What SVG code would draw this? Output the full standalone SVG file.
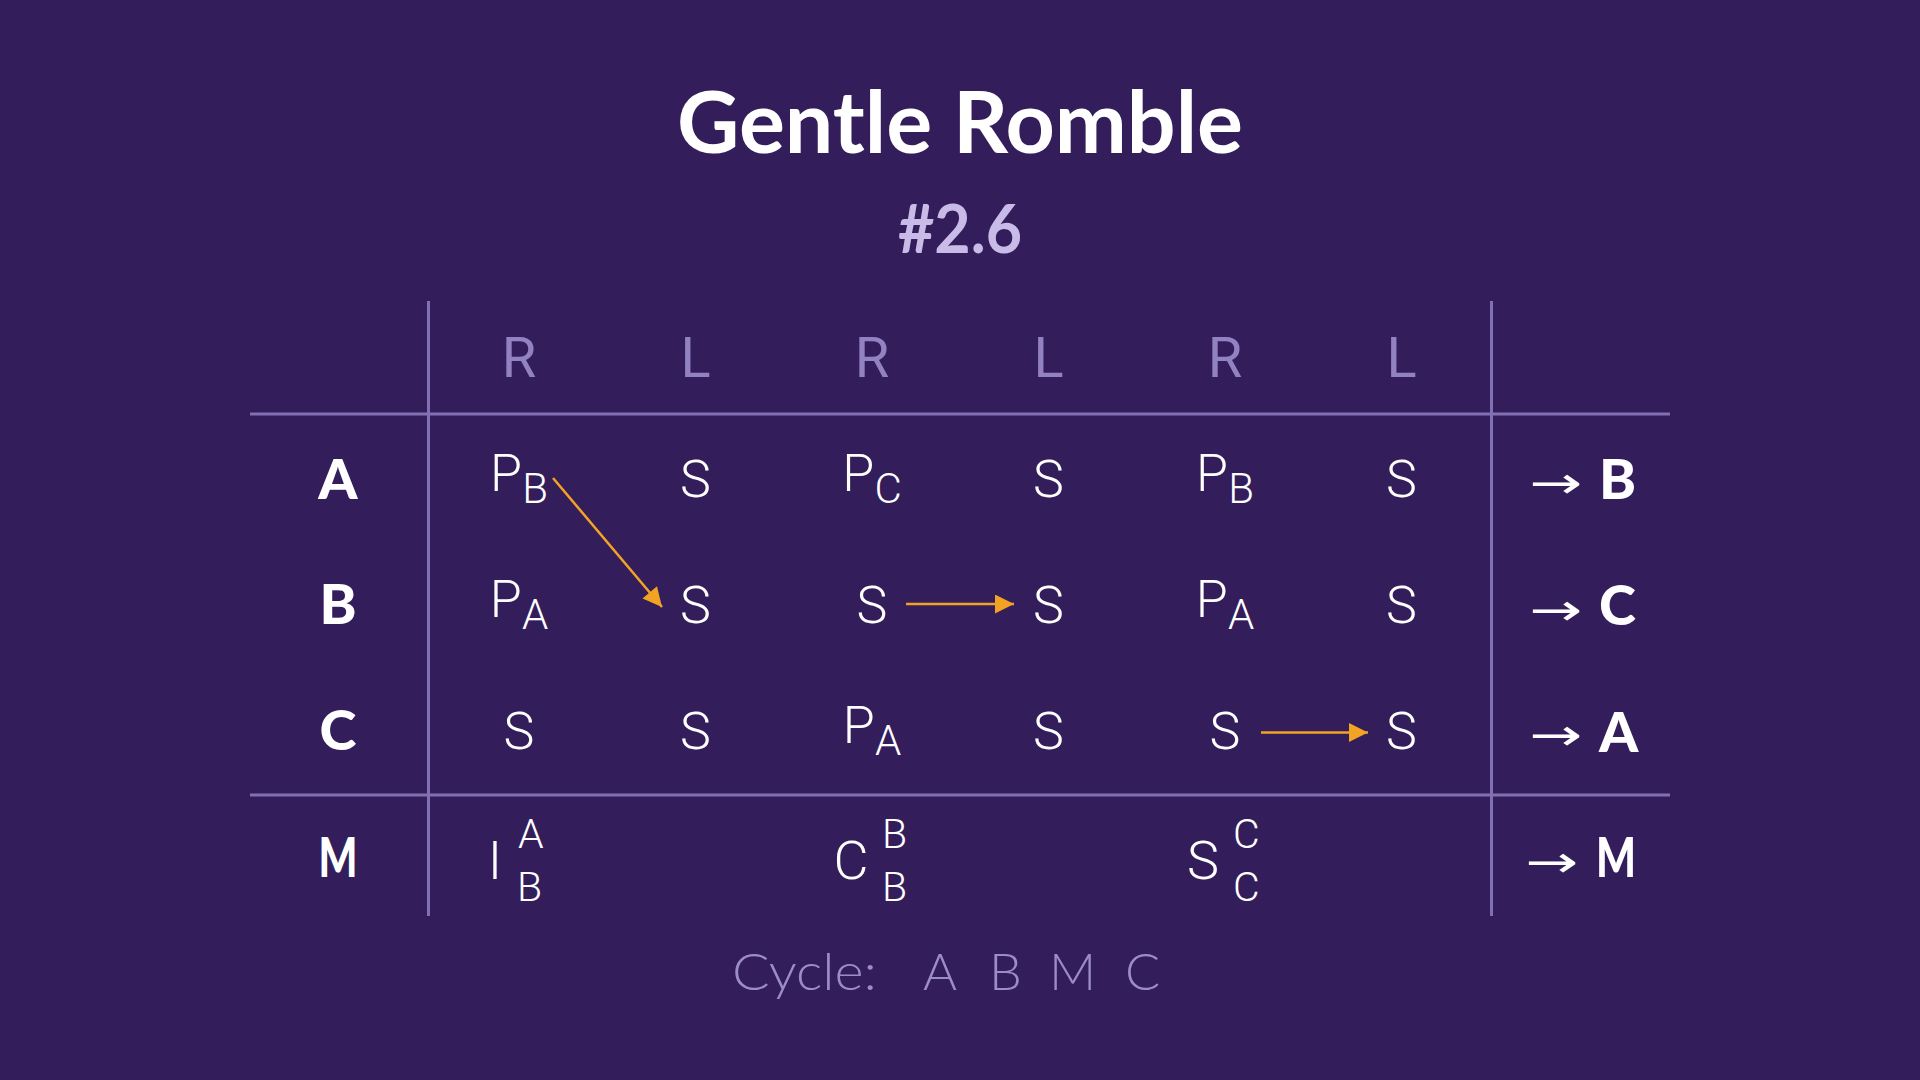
<svg xmlns="http://www.w3.org/2000/svg" width="1920" height="1080" viewBox="0 0 1920 1080">
<defs>
<style>
.title{font-family:Lato,"Open Sans",sans-serif;font-weight:700;fill:#ffffff}
.num{font-family:Lato,"Open Sans",sans-serif;font-weight:700;fill:#c9bbe8}
.hdr{font-family:Roboto,"DejaVu Sans",sans-serif;font-weight:400;font-size:56px;fill:#9382c2;text-anchor:middle}
.cell{font-family:Roboto,"DejaVu Sans",sans-serif;font-weight:300;font-size:52px;fill:#ffffff;text-anchor:middle}
.sub{font-size:42px}
.mm{font-family:Roboto,"DejaVu Sans",sans-serif;font-weight:300;font-size:54px;fill:#ffffff}
.ms{font-family:Roboto,"DejaVu Sans",sans-serif;font-weight:300;font-size:41px;fill:#ffffff}
.lbl{font-family:Lato,"DejaVu Sans",sans-serif;font-weight:900;font-size:56px;fill:#ffffff}
.arr{font-family:"DejaVu Sans",sans-serif;font-size:44px;fill:#ffffff}
.grid{stroke:#8270b5;stroke-width:3;fill:none}
.conn{stroke:#f2a323;stroke-width:2.5;fill:none}
.cyc{font-family:Lato,"Open Sans",sans-serif;font-weight:300;font-size:52px;fill:#9d8dc6}
</style>
<marker id="ah" viewBox="0 0 20 20" refX="20" refY="10" markerWidth="20" markerHeight="19" markerUnits="userSpaceOnUse" orient="auto">
<path d="M0,0 L20,10 L0,20 Z" fill="#f2a323"/>
</marker>
</defs>
<rect width="1920" height="1080" fill="#331e5b"/>

<g id="title">
<text class="title" x="960" y="153" font-size="86" text-anchor="middle" textLength="566" lengthAdjust="spacingAndGlyphs">Gentle Romble</text>
<text class="num" x="960" y="253" font-size="66" text-anchor="middle" textLength="124" lengthAdjust="spacingAndGlyphs">#2.6</text>
</g>

<g id="grid">
<line class="grid" x1="250" y1="414" x2="1670" y2="414"/>
<line class="grid" x1="250" y1="795" x2="1670" y2="795"/>
<line class="grid" x1="428.5" y1="301" x2="428.5" y2="916"/>
<line class="grid" x1="1491.5" y1="301" x2="1491.5" y2="916"/>
</g>

<g id="header">
<text class="hdr" x="519" y="377">R</text>
<text class="hdr" x="695.5" y="377">L</text>
<text class="hdr" x="872" y="377">R</text>
<text class="hdr" x="1048.5" y="377">L</text>
<text class="hdr" x="1225" y="377">R</text>
<text class="hdr" x="1401.5" y="377">L</text>
</g>

<g id="row-labels">
<text class="lbl" x="338" y="499" text-anchor="middle">A</text>
<text class="lbl" x="338" y="624" text-anchor="middle">B</text>
<text class="lbl" x="338" y="750" text-anchor="middle">C</text>
<text class="lbl" x="338" y="877" text-anchor="middle" textLength="39" lengthAdjust="spacingAndGlyphs">M</text>
</g>

<g id="row-A">
<text class="cell" x="519" y="491">P<tspan class="sub" dy="12">B</tspan></text>
<text class="cell" x="695.5" y="497">S</text>
<text class="cell" x="872" y="491">P<tspan class="sub" dy="12">C</tspan></text>
<text class="cell" x="1048.5" y="497">S</text>
<text class="cell" x="1225" y="491">P<tspan class="sub" dy="12">B</tspan></text>
<text class="cell" x="1401.5" y="497">S</text>
</g>

<g id="row-B">
<text class="cell" x="519" y="617">P<tspan class="sub" dy="12">A</tspan></text>
<text class="cell" x="695.5" y="623">S</text>
<text class="cell" x="872" y="623">S</text>
<text class="cell" x="1048.5" y="623">S</text>
<text class="cell" x="1225" y="617">P<tspan class="sub" dy="12">A</tspan></text>
<text class="cell" x="1401.5" y="623">S</text>
</g>

<g id="row-C">
<text class="cell" x="519" y="749">S</text>
<text class="cell" x="695.5" y="749">S</text>
<text class="cell" x="872" y="743">P<tspan class="sub" dy="12">A</tspan></text>
<text class="cell" x="1048.5" y="749">S</text>
<text class="cell" x="1225" y="749">S</text>
<text class="cell" x="1401.5" y="749">S</text>
</g>

<g id="row-M">
<text class="mm" x="495" y="879" text-anchor="middle">I</text>
<text class="ms" x="518" y="848">A</text>
<text class="ms" x="517" y="901">B</text>
<text class="mm" x="851" y="879" text-anchor="middle">C</text>
<text class="ms" x="882" y="848">B</text>
<text class="ms" x="882" y="901">B</text>
<text class="mm" x="1203" y="879" text-anchor="middle">S</text>
<text class="ms" x="1233" y="848">C</text>
<text class="ms" x="1233" y="901">C</text>
</g>

<g id="results">
<text class="arr" x="1529" y="498" textLength="53" lengthAdjust="spacingAndGlyphs">→</text>
<text class="lbl" x="1599" y="499">B</text>
<text class="arr" x="1529" y="625" textLength="53" lengthAdjust="spacingAndGlyphs">→</text>
<text class="lbl" x="1599" y="625">C</text>
<text class="arr" x="1529" y="750" textLength="53" lengthAdjust="spacingAndGlyphs">→</text>
<text class="lbl" x="1599" y="752">A</text>
<text class="arr" x="1525" y="877" textLength="53" lengthAdjust="spacingAndGlyphs">→</text>
<text class="lbl" x="1596" y="877" textLength="40" lengthAdjust="spacingAndGlyphs">M</text>
</g>

<g id="connectors">
<line class="conn" x1="553" y1="478" x2="662" y2="607" marker-end="url(#ah)"/>
<line class="conn" x1="906" y1="604" x2="1014" y2="604" marker-end="url(#ah)"/>
<line class="conn" x1="1261" y1="732.5" x2="1368" y2="732.5" marker-end="url(#ah)"/>
</g>

<g id="cycle">
<text class="cyc" y="990"><tspan x="732" textLength="145" lengthAdjust="spacingAndGlyphs">Cycle:</tspan><tspan x="923">A</tspan><tspan x="989">B</tspan><tspan x="1049">M</tspan><tspan x="1125">C</tspan></text>
</g>
</svg>
